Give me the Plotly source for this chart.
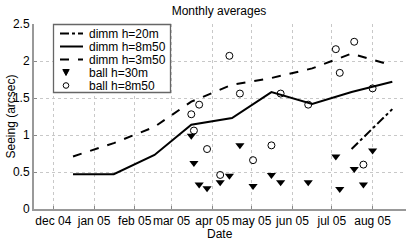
import plotly.graph_objects as go

# Monthly average dates (mid-month)
month_dates = ["2004-12-16", "2005-01-16", "2005-02-16", "2005-03-16", "2005-04-16",
               "2005-05-16", "2005-06-16", "2005-07-16", "2005-08-16"]
dimm_8m50 = [0.47, 0.47, 0.73, 1.14, 1.23, 1.58, 1.42, 1.58, 1.72]
dimm_3m50 = [0.71, 0.89, 1.11, 1.45, 1.68, 1.77, 1.90, 2.10, 1.94]
dimm20_dates = ["2005-07-16", "2005-08-16"]
dimm_20m = [0.81, 1.35]

# Balloon flight dates
ball_dates = ["2005-03-16", "2005-03-18", "2005-03-22", "2005-03-28", "2005-04-07",
              "2005-04-14", "2005-04-22", "2005-05-02", "2005-05-16", "2005-05-23",
              "2005-06-13", "2005-07-04", "2005-07-07", "2005-07-18", "2005-07-25",
              "2005-08-01"]
ball_30m = [0.99, 0.62, 0.33, 0.28, 0.36, 0.45, 0.86, 0.31, 0.46, 0.36,
            0.36, 0.71, 0.27, 0.54, 0.33, 0.79]
ball_8m50 = [1.28, 1.06, 1.41, 0.81, 0.46, 2.07, 1.56, 0.66, 0.86, 1.56,
             1.41, 2.16, 1.84, 2.26, 0.60, 1.63]

tick_dates = ["2004-12-01", "2005-01-01", "2005-02-01", "2005-03-01", "2005-04-01",
              "2005-05-01", "2005-06-01", "2005-07-01", "2005-08-01"]
tick_labels = ["dec 04", "jan 05", "feb 05", "mar 05", "apr 05", "may 05",
               "jun 05", "jul 05", "aug 05"]
y_ticks = [0, 0.5, 1, 1.5, 2, 2.5]
y_labels = ["0", "0.5", "1", "1.5", "2", "2.5"]

legend_names = ["dimm h=20m", "dimm h=8m50", "dimm h=3m50", "ball h=30m", "ball h=8m50"]

FONT = "Liberation Sans, Arial, sans-serif"
W, H = 409, 243
ML, MR, MT, MB = 34, 3, 24, 34
PW, PH = W - ML - MR, H - MT - MB


def px(x):
    return (x - ML) / PW


def py(y):
    return (H - MB - y) / PH


fig = go.Figure()
fig.add_trace(go.Scatter(x=dimm20_dates, y=dimm_20m, mode="lines", name=legend_names[0],
                         line=dict(color="black", width=2, dash="dashdot")))
fig.add_trace(go.Scatter(x=month_dates, y=dimm_8m50, mode="lines", name=legend_names[1],
                         line=dict(color="black", width=2)))
fig.add_trace(go.Scatter(x=month_dates, y=dimm_3m50, mode="lines", name=legend_names[2],
                         line=dict(color="black", width=2, dash="dash")))
fig.add_trace(go.Scatter(x=ball_dates, y=ball_30m, mode="markers", name=legend_names[3],
                         marker=dict(symbol="triangle-down", color="black", size=8)))
fig.add_trace(go.Scatter(x=ball_dates, y=ball_8m50, mode="markers", name=legend_names[4],
                         marker=dict(symbol="circle-open", color="black", size=7,
                                     line=dict(width=1))))

# Compact legend (Matlab-like) drawn in paper coordinates
shapes = []
annotations = []
shapes.append(dict(type="rect", xref="paper", yref="paper", layer="above",
                   x0=px(53.5), x1=px(170.5), y0=py(92.5), y1=py(24.5),
                   fillcolor="white", line=dict(color="#666666", width=1.3)))
row_y = [33.5, 46.5, 59.5, 72.5, 85.5]
dashes = ["dashdot", "solid", "dash"]
for i in range(3):
    shapes.append(dict(type="line", xref="paper", yref="paper", layer="above",
                       x0=px(60), x1=px(83), y0=py(row_y[i]), y1=py(row_y[i]),
                       line=dict(color="black", width=2, dash=dashes[i])))
# triangle marker sample
ty = row_y[3]
tri = "M {} {} L {} {} L {} {} Z".format(px(62.8), py(ty - 3), px(69.2), py(ty - 3),
                                         px(66), py(ty + 3))
shapes.append(dict(type="path", xref="paper", yref="paper", layer="above", path=tri,
                   fillcolor="black", line=dict(color="black", width=1)))
cy = row_y[4]
shapes.append(dict(type="circle", xref="paper", yref="paper", layer="above",
                   x0=px(63.2), x1=px(68.8), y0=py(cy + 2.8), y1=py(cy - 2.8),
                   line=dict(color="black", width=1)))
for i, name in enumerate(legend_names):
    annotations.append(dict(text=name, xref="paper", yref="paper", x=px(86.5), y=py(row_y[i]),
                            xanchor="left", yanchor="middle", showarrow=False,
                            font=dict(size=12, family=FONT, color="black")))

# axis titles
annotations.append(dict(text="Date", xref="paper", yref="paper", x=px(220), y=py(234),
                        xanchor="center", yanchor="middle", showarrow=False,
                        font=dict(size=12, family=FONT)))
annotations.append(dict(text="Seeing (arcsec)", xref="paper", yref="paper", x=px(10),
                        y=py(116.5), xanchor="center", yanchor="middle", showarrow=False,
                        textangle=-90, font=dict(size=12, family=FONT)))

fig.update_layout(
    width=W, height=H,
    margin=dict(l=ML, r=MR, t=MT, b=MB),
    paper_bgcolor="white", plot_bgcolor="white",
    font=dict(family=FONT, size=12, color="black"),
    title=dict(text="Monthly averages", x=219 / W, xanchor="center",
               y=1 - 10.5 / H, yanchor="middle", font=dict(size=12)),
    showlegend=False,
    shapes=shapes,
    annotations=annotations,
)
fig.update_xaxes(
    range=["2004-11-16 07:00", "2005-08-26 10:00"],
    tickmode="array", tickvals=tick_dates, ticktext=tick_labels, tickangle=0,
    ticks="inside", ticklen=3, tickcolor="#888888",
    showline=True, linecolor="#999999", linewidth=2,
    showgrid=True, gridcolor="#c8c8c8", griddash="dot", gridwidth=1,
    zeroline=False,
)
fig.update_yaxes(
    range=[0, 2.5],
    tickmode="array", tickvals=y_ticks, ticktext=y_labels,
    ticks="inside", ticklen=3, tickcolor="#888888",
    showline=True, linecolor="#999999", linewidth=2,
    showgrid=True, gridcolor="#c8c8c8", griddash="dot", gridwidth=1,
    zeroline=False,
)

fig.write_html("out.html", config={"displayModeBar": False},
               post_script="document.body.style.margin='0';")
